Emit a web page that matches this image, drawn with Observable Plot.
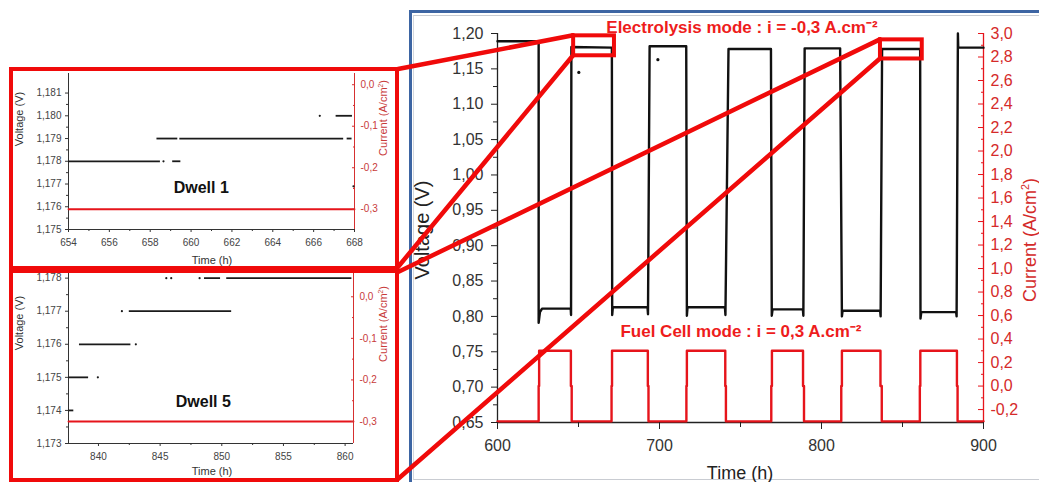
<!DOCTYPE html>
<html>
<head>
<meta charset="utf-8">
<script src="https://cdn.jsdelivr.net/npm/d3@7"></script>
<script src="https://cdn.jsdelivr.net/npm/@observablehq/plot@0.6"></script>
<style>
  html, body { margin: 0; padding: 0; background: #fff; }
  #stage { position: relative; width: 1039px; height: 482px; overflow: hidden; background: #fff;
           font-family: "Liberation Sans", Arial, Helvetica, sans-serif; }
  .abs { position: absolute; }
  .rot { position: absolute; transform: translate(-50%, -50%) rotate(-90deg); white-space: nowrap; }
  .ctr { position: absolute; transform: translate(-50%, -50%); white-space: nowrap; }
</style>
</head>
<body>
<div id="stage"></div>
<script>
// ---------------- DATA ----------------
// Main chart: cell voltage (V) vs time (h)
const voltTime  = [600, 625.4, 625.4, 626.2, 627.5, 645.2, 645.4, 645.6, 670.6, 670.8, 671.2, 692.6, 692.9, 693.9, 716.5, 716.9, 717.3, 740.4, 740.7, 742.6, 768.8, 769.3, 769.8, 788.5, 788.8, 789.6, 811.5, 812.6, 813.0, 836.2, 836.5, 837.4, 860.9, 861.1, 861.6, 883.1, 883.4, 884.2, 884.4, 900];
const voltValue = [1.189, 1.189, 0.791, 0.806, 0.811, 0.811, 0.802, 1.181, 1.180, 0.802, 0.813, 0.813, 0.803, 1.182, 1.182, 0.801, 0.813, 0.813, 0.802, 1.178, 1.178, 0.801, 0.810, 0.810, 0.801, 1.179, 1.179, 0.800, 0.808, 0.808, 0.800, 1.178, 1.178, 0.797, 0.806, 0.806, 0.800, 1.200, 1.180, 1.180];
const mainDotTime = [650.2, 699.0];
const mainDotVolt = [1.145, 1.163];
// Main chart: current density (A/cm2) vs time (h)
const curTime  = [600, 625.4, 625.4, 625.7, 625.7, 645.3, 645.3, 645.8, 645.8, 670.4, 670.4, 670.7, 670.7, 692.8, 692.8, 693.2, 693.2, 716.6, 716.6, 716.9, 716.9, 740.6, 740.6, 741.0, 741.0, 769.0, 769.0, 769.4, 769.4, 788.6, 788.6, 789.2, 789.2, 812.2, 812.2, 812.6, 812.6, 836.4, 836.4, 837.2, 837.2, 860.7, 860.7, 861.0, 861.0, 883.6, 883.6, 884.0, 884.0, 900];
const curValue = [-0.3, -0.3, 0, 0, 0.3, 0.3, 0, 0, -0.3, -0.3, 0, 0, 0.3, 0.3, 0, 0, -0.3, -0.3, 0, 0, 0.3, 0.3, 0, 0, -0.3, -0.3, 0, 0, 0.3, 0.3, 0, 0, -0.3, -0.3, 0, 0, 0.3, 0.3, 0, 0, -0.3, -0.3, 0, 0, 0.3, 0.3, 0, 0, -0.3, -0.3];
// Main chart ticks
const voltTicks = [0.65, 0.70, 0.75, 0.80, 0.85, 0.90, 0.95, 1.00, 1.05, 1.10, 1.15, 1.20];
const curTicks  = [-0.2, 0.0, 0.2, 0.4, 0.6, 0.8, 1.0, 1.2, 1.4, 1.6, 1.8, 2.0, 2.2, 2.4, 2.6, 2.8, 3.0];
const timeTicks = [600, 700, 800, 900];
const timeMinorTicks = [650, 750, 850];
// Main chart annotations
const modeLabels = ["Electrolysis mode : i = -0,3 A.cm⁻²", "Fuel Cell mode : i = 0,3 A.cm⁻²"];
const modeLabelTime = [750.9, 750.3];
const modeLabelVolt = [1.2085, 0.7787];
// zoom boxes (dwell 1, dwell 5)
const zoomBoxT1 = [647.0, 836.4];
const zoomBoxT2 = [672.2, 862.2];
const zoomBoxV1 = [1.1685, 1.1640];
const zoomBoxV2 = [1.1967, 1.1910];

// Inset: Dwell 1
const dwell1SegStart = [654.0, 659.1, 658.33, 659.45, 667.64, 667.1];
const dwell1SegEnd   = [658.5, 659.5, 659.35, 667.47, 667.88, 667.9];
const dwell1SegVolt  = [1.178, 1.178, 1.179, 1.179, 1.179, 1.180];
const dwell1DotTime  = [658.65, 666.3, 667.95];
const dwell1DotVolt  = [1.178, 1.180, 1.1769];
const dwell1CurTime  = [654, 668];
const dwell1CurValue = [-0.3, -0.3];
const dwell1TimeTicks = [654, 656, 658, 660, 662, 664, 666, 668];
const dwell1VoltTicks = [1.175, 1.176, 1.177, 1.178, 1.179, 1.180, 1.181];
const dwell1CurTicks  = [0.0, -0.1, -0.2, -0.3];

// Inset: Dwell 5
const dwell5SegStart = [837.6, 837.6, 838.46, 842.5, 848.6, 850.4];
const dwell5SegEnd   = [838.0, 839.2, 842.63, 850.8, 849.9, 860.55];
const dwell5SegVolt  = [1.174, 1.175, 1.176, 1.177, 1.178, 1.178];
const dwell5DotTime  = [839.95, 843.03, 841.9, 845.5, 845.9, 848.2];
const dwell5DotVolt  = [1.175, 1.176, 1.177, 1.178, 1.178, 1.178];
const dwell5CurTime  = [837.57, 860.68];
const dwell5CurValue = [-0.3, -0.3];
const dwell5TimeTicks = [840, 845, 850, 855, 860];
const dwell5VoltTicks = [1.173, 1.174, 1.175, 1.176, 1.177, 1.178];
const dwell5CurTicks  = [0.0, -0.1, -0.2, -0.3];

// ---------------- STYLE / LAYOUT ----------------
const FONT = "'Liberation Sans', Arial, Helvetica, sans-serif";
const RED = "#e6141b";
const FRAME_RED = "#f00a0a";
const INK = "#111";
const TXT = "#333";
const MAIN = {left: 411, top: 12, width: 628, height: 470};
const IN1 = {left: 10, top: 68, width: 388, height: 201};
const IN2 = {left: 10, top: 270, width: 388, height: 211};

const comma = s => s.replace(".", ",");
const fmtRound = (v, d) => { const f = Math.pow(10, d); let r = Math.round(v * f) / f; if (r === 0) r = 0; return comma(r.toFixed(d)); };
const idx = arr => arr.map((_, i) => i);
const mids = (arr) => arr.slice(1).map((v, i) => (v + arr[i]) / 2);

const stage = document.getElementById("stage");

// ---------------- MAIN CHART ----------------
const curMin = -0.31, curMax = 3.0, vMin = 0.65, vMax = 1.20;
const c2v = c => vMin + (c - curMin) * (vMax - vMin) / (curMax - curMin);
const v2c = v => curMin + (v - vMin) * (curMax - curMin) / (vMax - vMin);

const main = Plot.plot({
  width: MAIN.width, height: MAIN.height,
  marginLeft: 86, marginRight: 56, marginTop: 21, marginBottom: 60,
  x: {domain: [600, 900]},
  y: {domain: [vMin, vMax]},
  style: {fontFamily: FONT, fontSize: "16px", color: TXT, background: "transparent", overflow: "visible"},
  marks: [
    Plot.ruleX([600], {stroke: "#222", strokeWidth: 1.3}),
    Plot.ruleY([vMin], {stroke: "#222", strokeWidth: 1.3}),
    Plot.ruleX([900], {stroke: RED, strokeWidth: 1.3}),
    Plot.line(idx(curTime), {x: i => curTime[i], y: i => c2v(curValue[i]), stroke: RED, strokeWidth: 2.4}),
    Plot.line(idx(voltTime), {x: i => voltTime[i], y: i => voltValue[i], stroke: INK, strokeWidth: 2.4}),
    Plot.dot(idx(mainDotTime), {x: i => mainDotTime[i], y: i => mainDotVolt[i], r: 1.6, fill: INK, stroke: null}),
    Plot.axisY(voltTicks, {anchor: "left", tickSize: 6, tickPadding: 8, tickFormat: v => fmtRound(v, 2), label: null, stroke: "#222", fill: TXT}),
    Plot.axisY(mids(voltTicks), {anchor: "left", tickSize: 4, tickFormat: () => "", label: null, stroke: "#222"}),
    Plot.axisX(timeTicks, {anchor: "bottom", tickSize: 7, tickPadding: 10, tickFormat: d => String(d), label: null, stroke: "#222", fill: TXT}),
    Plot.axisX(timeMinorTicks, {anchor: "bottom", tickSize: 5, tickFormat: () => "", label: null, stroke: "#222"}),
    Plot.axisY(curTicks.map(c2v), {anchor: "right", tickSize: -6, tickPadding: 13, tickFormat: v => fmtRound(v2c(v), 1), label: null, stroke: RED, fill: "#d52a2a"}),
    Plot.axisY(mids(curTicks).map(c2v), {anchor: "right", tickSize: -3, tickFormat: () => "", label: null, stroke: RED}),
    Plot.rect(idx(zoomBoxT1), {x1: i => zoomBoxT1[i], x2: i => zoomBoxT2[i], y1: i => zoomBoxV1[i], y2: i => zoomBoxV2[i], fill: "none", stroke: FRAME_RED, strokeWidth: 4}),
    Plot.text(idx(modeLabels), {x: i => modeLabelTime[i], y: i => modeLabelVolt[i], text: i => modeLabels[i], fill: "#ee1c1c", fontWeight: "bold", fontSize: 17})
  ]
});

// blue frame around the main chart
const frameBlue = document.createElement("div");
frameBlue.className = "abs";
Object.assign(frameBlue.style, {left: "409px", top: "10px", width: "640px", height: "480px",
  borderTop: "3px solid #3d65a3", borderLeft: "3px solid #3d65a3", boxSizing: "border-box"});
stage.appendChild(frameBlue);
const frameGray = document.createElement("div");
frameGray.className = "abs";
Object.assign(frameGray.style, {left: "413px", top: "15px", width: "640px", height: "465px",
  borderTop: "1.5px solid #c9ccd2", borderLeft: "1px solid #d5d8dd", borderBottom: "1.5px solid #c9ccd2", boxSizing: "border-box"});
stage.appendChild(frameGray);

function place(el, box) {
  el.style.position = "absolute";
  el.style.left = box.left + "px";
  el.style.top = box.top + "px";
  stage.appendChild(el);
}
place(main, MAIN);

// ---------------- INSETS ----------------
function makeInset(o) {
  const cv = c => o.cRefV + (c - o.cRef) * o.cSlope;
  const vc = v => o.cRef + (v - o.cRefV) / o.cSlope;
  return Plot.plot({
    width: o.box.width, height: o.box.height,
    marginLeft: o.ml, marginRight: o.mr, marginTop: o.mt, marginBottom: o.mb,
    x: {domain: o.xDomain},
    y: {domain: o.yDomain},
    style: {fontFamily: FONT, fontSize: "10px", color: "#444", background: "transparent", overflow: "visible"},
    marks: [
      Plot.ruleX([o.xDomain[0]], {stroke: "#333", strokeWidth: 1}),
      Plot.ruleY([o.yDomain[0]], {stroke: "#333", strokeWidth: 1}),
      Plot.ruleX([o.xDomain[1]], {stroke: "#d63030", strokeWidth: 1}),
      Plot.line(idx(o.curT), {x: i => o.curT[i], y: i => cv(o.curV[i]), stroke: RED, strokeWidth: 1.8}),
      Plot.ruleY(idx(o.segS), {y: i => o.segV[i], x1: i => o.segS[i], x2: i => o.segE[i], stroke: "#1a1a1a", strokeWidth: 1.8}),
      Plot.dot(idx(o.dotT), {x: i => o.dotT[i], y: i => o.dotV[i], r: 1.1, fill: "#1a1a1a", stroke: null}),
      Plot.axisY(o.vTicks, {anchor: "left", tickSize: 3, tickPadding: 4, tickFormat: v => fmtRound(v, 3), label: null, stroke: "#333", fill: "#444"}),
      Plot.axisY(mids(o.vTicks), {anchor: "left", tickSize: 2, tickFormat: () => "", label: null, stroke: "#333"}),
      Plot.axisX(o.tTicks, {anchor: "bottom", tickSize: 3, tickPadding: 6, tickFormat: d => String(d), label: null, stroke: "#333", fill: "#444"}),
      Plot.axisX(o.tMinor, {anchor: "bottom", tickSize: 2, tickFormat: () => "", label: null, stroke: "#333"}),
      Plot.axisY(o.cTicks.map(cv), {anchor: "right", tickSize: -3, tickPadding: 9, tickFormat: v => fmtRound(vc(v), 1), label: null, stroke: "#d63030", fill: "#c83a3a"}),
      Plot.axisY(mids(o.cTicks).map(cv), {anchor: "right", tickSize: -2, tickFormat: () => "", label: null, stroke: "#d63030"}),
      Plot.text([o.title], {x: o.titleT, y: o.titleV, fill: "#111", fontWeight: "bold", fontSize: 16})
    ]
  });
}

const inset1 = makeInset({
  box: IN1, ml: 58, mr: 44, mt: 5, mb: 40,
  xDomain: [654, 668], yDomain: [1.175, 1.18186],
  cRef: -0.3, cRefV: 1.17589, cSlope: 0.018257,
  curT: dwell1CurTime, curV: dwell1CurValue,
  segS: dwell1SegStart, segE: dwell1SegEnd, segV: dwell1SegVolt,
  dotT: dwell1DotTime, dotV: dwell1DotVolt,
  vTicks: dwell1VoltTicks, tTicks: dwell1TimeTicks, tMinor: mids(dwell1TimeTicks), cTicks: dwell1CurTicks,
  title: "Dwell 1", titleT: 660.5, titleV: 1.17683
});
place(inset1, IN1);

const inset2 = makeInset({
  box: IN2, ml: 58, mr: 45, mt: 3, mb: 38,
  xDomain: [837.57, 860.68], yDomain: [1.173, 1.17814],
  cRef: -0.3, cRefV: 1.173665, cSlope: 0.01257,
  curT: dwell5CurTime, curV: dwell5CurValue,
  segS: dwell5SegStart, segE: dwell5SegEnd, segV: dwell5SegVolt,
  dotT: dwell5DotTime, dotV: dwell5DotVolt,
  vTicks: dwell5VoltTicks, tTicks: dwell5TimeTicks, tMinor: mids(dwell5TimeTicks), cTicks: dwell5CurTicks,
  title: "Dwell 5", titleT: 848.5, titleV: 1.17425
});
place(inset2, IN2);

// red frames around insets
function redFrame(l, t, w, h) {
  const d = document.createElement("div");
  d.className = "abs";
  Object.assign(d.style, {left: l + "px", top: t + "px", width: w + "px", height: h + "px",
    border: "4px solid " + FRAME_RED, boxSizing: "border-box"});
  stage.appendChild(d);
}
redFrame(9, 67, 390, 203);
redFrame(9, 269, 390, 213);

// ---------------- AXIS TITLES (text) ----------------
function label(cls, txt, x, y, size, color, extra) {
  const d = document.createElement("div");
  d.className = cls;
  d.innerHTML = txt;
  Object.assign(d.style, {left: x + "px", top: y + "px", fontSize: size + "px", color: color}, extra || {});
  stage.appendChild(d);
}
label("rot", "Voltage (V)", 422, 230, 20, "#222");
label("rot", "Current (A/cm<sup style='font-size:0.6em'>2</sup>)", 1030, 240, 18, "#d42a2a");
label("ctr", "Time (h)", 740, 473, 18, "#222");
label("rot", "Voltage (V)", 19, 119, 11, "#333");
label("rot", "Current (A/cm<sup style='font-size:0.6em'>2</sup>)", 383, 118, 11, "#c83a3a");
label("ctr", "Time (h)", 212, 260, 11, "#333");
label("rot", "Voltage (V)", 19, 323, 11, "#333");
label("rot", "Current (A/cm<sup style='font-size:0.6em'>2</sup>)", 383, 324, 11, "#c83a3a");
label("ctr", "Time (h)", 212, 471, 11, "#333");

// ---------------- CONNECTOR LINES ----------------
const sx = main.scale("x"), sy = main.scale("y");
const px = t => MAIN.left + sx.apply(t);
const py = v => MAIN.top + sy.apply(v);
const connectors = [
  {from: [IN1.left + IN1.width, IN1.top + 1], to: [px(zoomBoxT1[0]), py(zoomBoxV2[0])]},
  {from: [IN1.left + IN1.width, IN1.top + IN1.height - 2], to: [px(zoomBoxT1[0]), py(zoomBoxV1[0])]},
  {from: [IN2.left + IN2.width, IN2.top + 2], to: [px(zoomBoxT1[1]), py(zoomBoxV2[1])]},
  {from: [IN2.left + IN2.width, IN2.top + IN2.height - 2], to: [px(zoomBoxT1[1]), py(zoomBoxV1[1])]}
];
const overlay = d3.create("svg")
  .attr("width", 1039).attr("height", 482)
  .style("position", "absolute").style("left", "0px").style("top", "0px").style("pointer-events", "none");
overlay.selectAll("line").data(connectors).join("line")
  .attr("x1", d => d.from[0]).attr("y1", d => d.from[1])
  .attr("x2", d => d.to[0]).attr("y2", d => d.to[1])
  .attr("stroke", FRAME_RED).attr("stroke-width", 4.5).attr("stroke-linecap", "round");
stage.appendChild(overlay.node());
</script>
</body>
</html>
